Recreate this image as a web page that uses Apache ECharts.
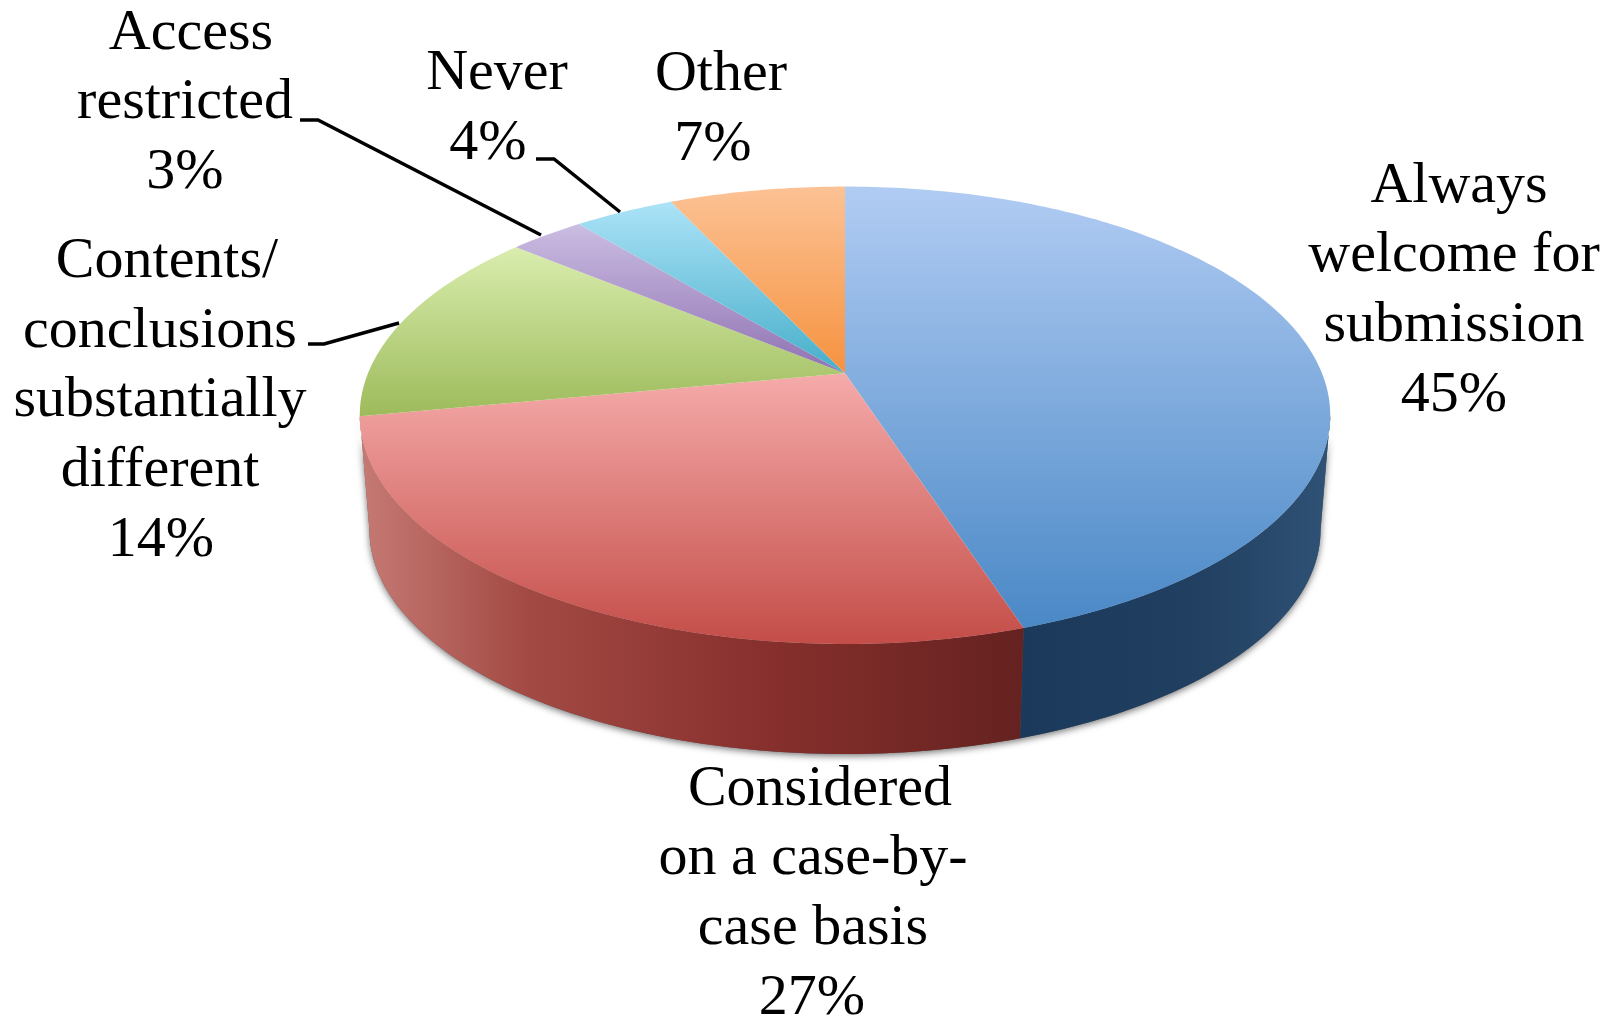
<!DOCTYPE html>
<html>
<head>
<meta charset="utf-8">
<title>Pie</title>
<style>
html,body{margin:0;padding:0;background:#fff;overflow:hidden}
#main{width:1608px;height:1019px;filter:blur(0.5px)}
</style>
<script src="https://cdn.jsdelivr.net/npm/echarts@6/dist/echarts.min.js"></script>
</head>
<body>
<div id="main"></div>
<script>
var categories = [
	"Always\nwelcome for\nsubmission",
	"Considered\non a case-by-\ncase basis",
	"Contents/\nconclusions\nsubstantially\ndifferent",
	"Access\nrestricted",
	"Never",
	"Other"
];
var sliceValues = [45, 27, 14, 3, 4, 7];
var topColors = [
	["#b1ccf3", "#4a88c6"],
	["#f5abaa", "#c44d48"],
	["#d9edae", "#9dbb5b"],
	["#cbbde2", "#8f72b2"],
	["#ace3f8", "#46aec9"],
	["#fcc295", "#f6923f"]
];
// 侧面颜色，从左到右，只有前面两块看得到侧面
var wallColors = [
	[[0, "#1b3a5b"], [0.55, "#213f60"], [1, "#2f5276"]],
	[[0, "#c67a74"], [0.25, "#a34a44"], [0.6, "#88302d"], [1, "#652220"]]
];

// 透视参数，按参考图量出来的
var cx = 845, cy = 373.3;
var radiusX = 477, radiusY = 221, persp = 0.1836;
var bottomScale = 0.98, bottomShift = 115.4;
var total = sliceValues.reduce(function(a, b){ return a + b; }, 0);
// 文字和引线的位置
var lineHeight = 69.7;
var labelPos = [[1454, 291], [813, 894], [160, 401], [185, 103], [497, 109], [721, 110]];
var lineNudge = [[5, 0, 0, 0], [7, 0, 0, -1], [7, 0, 0, 0, 1], [6, 0, 0], [0, -9], [0, -8]];
var leaderPos = {
	2: [[308, 344], [324, 344], [399, 323]],
	3: [[300, 120], [318, 120], [541, 235]],
	4: [[536, 159], [554, 159], [620, 212]]
};

function project(deg, bottom){
	var r = deg * Math.PI / 180;
	var w = 1 + persp * Math.cos(r);
	var s = bottom ? bottomScale : 1;
	return [
		cx + s * radiusX * Math.sin(r) / w,
		cy - s * radiusY * Math.cos(r) / w + (bottom ? bottomShift : 0)
	];
}
function arcPoints(from, to, bottom){
	var pts = [];
	var n = Math.max(2, Math.ceil(Math.abs(to - from)));
	for(var i = 0; i <= n; i++){
		pts.push(project(from + (to - from) * i / n, bottom));
	}
	return pts;
}
function wallPoints(from, to){
	return arcPoints(from, to, false).concat(arcPoints(to, from, true));
}

var rightEdge = Math.acos(-persp) * 180 / Math.PI;
var leftEdge = 360 - rightEdge;

function renderSlice(params, api){
	var idx = params.dataIndex;
	var before = 0;
	for(var i = 0; i < idx; i++){
		before += sliceValues[i];
	}
	var start = before / total * 360;
	var end = (before + api.value(0)) / total * 360;
	var children = [];

	if(idx == 0){
		// 底下一层软阴影
		children.push({
			type: "polygon",
			shape: {points: wallPoints(rightEdge, leftEdge)},
			style: {fill: "#555", shadowBlur: 7, shadowColor: "rgba(0,0,0,0.55)", shadowOffsetY: 2}
		});
	}
	var wallFrom = Math.max(start, rightEdge);
	var wallTo = Math.min(end, leftEdge);
	if(wallColors[idx] && wallTo > wallFrom){
		children.push({
			type: "polygon",
			shape: {points: wallPoints(wallFrom, wallTo)},
			style: {
				fill: new echarts.graphic.LinearGradient(0, 0, 1, 0, wallColors[idx].map(function(s){
					return {offset: s[0], color: s[1]};
				}))
			}
		});
	}
	children.push({
		type: "polygon",
		shape: {points: [[cx, cy]].concat(arcPoints(start, end, false))},
		style: {
			fill: new echarts.graphic.LinearGradient(0, 0, 0, 1, [
				{offset: 0, color: topColors[idx][0]},
				{offset: 1, color: topColors[idx][1]}
			])
		}
	});
	if(leaderPos[idx]){
		children.push({
			type: "polyline",
			z2: 10,
			shape: {points: leaderPos[idx]},
			style: {stroke: "#000", lineWidth: 3.5, fill: null}
		});
	}
	// 每行单独画，参考图里各行并不严格居中
	var lines = (categories[idx] + "\n" + api.value(0) + "%").split("\n");
	for(var k = 0; k < lines.length; k++){
		children.push({
			type: "text",
			z2: 10,
			x: labelPos[idx][0] + lineNudge[idx][k],
			y: labelPos[idx][1] + (k - (lines.length - 1) / 2) * lineHeight,
			style: {
				text: lines[k],
				fill: "#000",
				font: '58px "Liberation Serif"',
				align: "center",
				verticalAlign: "middle"
			}
		});
	}
	return {type: "group", children: children};
}

var myChart = echarts.init(document.getElementById("main"));
var option = {
	animation: false,
	backgroundColor: "#fff",
	series: [
		{
			type: "custom",
			coordinateSystem: "none",
			renderItem: renderSlice,
			data: sliceValues
		}
	]
};
myChart.setOption(option);
</script>
</body>
</html>
